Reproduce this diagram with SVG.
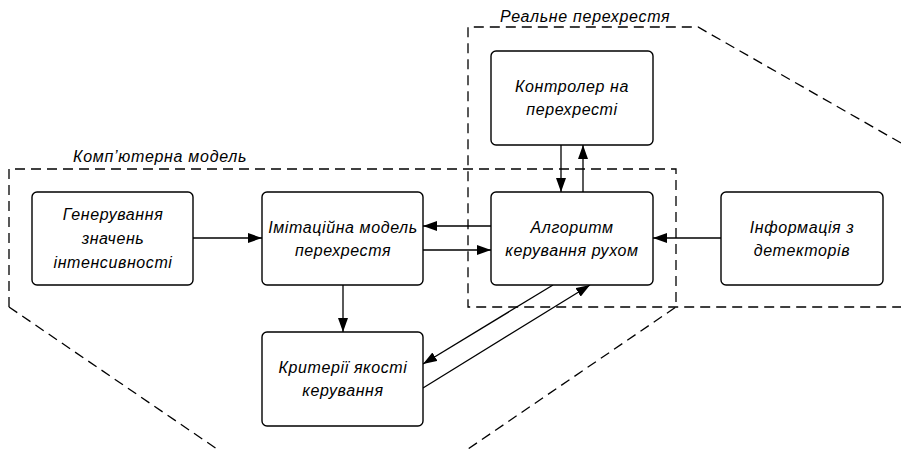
<svg xmlns="http://www.w3.org/2000/svg" width="901" height="449" viewBox="0 0 901 449">
<defs>
<marker id="ah" viewBox="0 0 14 10" refX="14" refY="5" markerWidth="14" markerHeight="10" markerUnits="userSpaceOnUse" orient="auto">
<path d="M0,0 L14,5 L0,10 Z" fill="#000"/>
</marker>
<style>
.box{fill:#fff;stroke:#000;stroke-width:1.4}
.t{font-family:"Liberation Sans",Arial,sans-serif;font-style:italic;font-size:16px;letter-spacing:0.6px;fill:#000;text-anchor:middle}
.lbl{font-family:"Liberation Sans",Arial,sans-serif;font-style:italic;font-size:16px;letter-spacing:0.7px;fill:#000}
.dash{fill:none;stroke:#000;stroke-width:1.3;stroke-dasharray:10 6}
.c{fill:none;stroke:#000;stroke-width:1.3;marker-end:url(#ah)}
</style>
</defs>
<rect width="901" height="449" fill="#fff"/>
<g id="boundaries">
<path class="dash" d="M9,307 L9,169 L676,169 L676,307 L468,449"/>
<path class="dash" d="M9,307 L217,449"/>
<path class="dash" d="M901,143 L698,27 L468,27 L468,307 L901,307"/>
<text class="lbl" x="73" y="162">Комп’ютерна модель</text>
<text class="lbl" x="500" y="22">Реальне перехрестя</text>
</g>
<g id="connectors">
<line class="c" x1="193" y1="238" x2="262" y2="238"/>
<line class="c" x1="343" y1="285" x2="343" y2="332"/>
<line class="c" x1="491" y1="226" x2="423" y2="226"/>
<line class="c" x1="423" y1="250" x2="491" y2="250"/>
<line class="c" x1="721" y1="238" x2="653" y2="238"/>
<line class="c" x1="561" y1="145" x2="561" y2="192"/>
<line class="c" x1="583" y1="192" x2="583" y2="145"/>
<line class="c" x1="553" y1="285" x2="423" y2="364"/>
<line class="c" x1="423" y1="388" x2="590" y2="285"/>
</g>
<g id="gen">
<rect class="box" x="32" y="192" width="161" height="93" rx="5"/>
<text class="t" x="113" y="220">Генерування</text>
<text class="t" x="113" y="244">значень</text>
<text class="t" x="113" y="268">інтенсивності</text>
</g>
<g id="sim">
<rect class="box" x="262" y="192" width="161" height="93" rx="5"/>
<text class="t" x="343" y="233">Імітаційна модель</text>
<text class="t" x="343" y="256">перехрестя</text>
</g>
<g id="crit">
<rect class="box" x="262" y="332" width="161" height="94" rx="5"/>
<text class="t" x="343" y="373">Критерії якості</text>
<text class="t" x="343" y="396">керування</text>
</g>
<g id="ctrl">
<rect class="box" x="491" y="51" width="162" height="94" rx="5"/>
<text class="t" x="572" y="92">Контролер на</text>
<text class="t" x="572" y="115">перехресті</text>
</g>
<g id="alg">
<rect class="box" x="491" y="192" width="162" height="93" rx="5"/>
<text class="t" x="572" y="233">Алгоритм</text>
<text class="t" x="572" y="256">керування рухом</text>
</g>
<g id="info">
<rect class="box" x="721" y="192" width="162" height="93" rx="5"/>
<text class="t" x="802" y="233">Інформація з</text>
<text class="t" x="802" y="256">детекторів</text>
</g>
</svg>
